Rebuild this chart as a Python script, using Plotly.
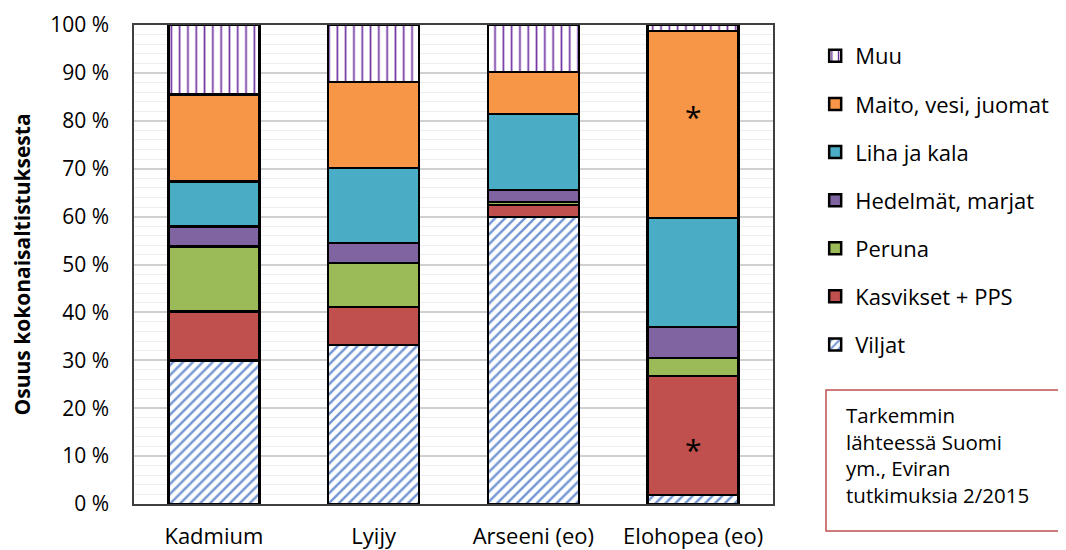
import plotly.graph_objects as go

categories = ["Kadmium", "Lyijy", "Arseeni (eo)", "Elohopea (eo)"]
series_names = ["Viljat", "Kasvikset + PPS", "Peruna", "Hedelmät, marjat", "Liha ja kala", "Maito, vesi, juomat", "Muu"]
viljat = [30.0, 33.2, 59.9, 1.9]
kasvikset = [10.2, 7.9, 2.5, 24.8]
peruna = [13.6, 9.2, 0.7, 3.8]
hedelmat = [4.1, 4.2, 2.5, 6.5]
liha = [9.4, 15.6, 15.8, 22.7]
maito = [18.2, 18.0, 8.8, 39.0]
muu = [14.5, 11.9, 9.8, 1.3]
y_ticks = list(range(0, 101, 10))
y_ticklabels = [f"{t} %" for t in y_ticks]

series_values = [viljat, kasvikset, peruna, hedelmat, liha, maito, muu]
colors = ["#4472C4", "#C0504D", "#9BBB59", "#8064A2", "#4BACC6", "#F79646", "#7030A0"]
patterns = ["/", "", "", "", "", "", "|"]

FONT = "'Open Sans', 'Noto Sans', sans-serif"

fig = go.Figure()
for i, (name, vals, col, pat) in enumerate(zip(series_names, series_values, colors, patterns)):
    if pat == "/":
        marker = dict(color="white", line=dict(color="black", width=2.5),
                      pattern=dict(shape=pat, fgcolor=col, bgcolor="white", fgopacity=0.75,
                                   size=7, solidity=0.35, fillmode="overlay"))
    elif pat == "|":
        marker = dict(color="white", line=dict(color="black", width=2.5),
                      pattern=dict(shape=pat, fgcolor=col, bgcolor="white", fgopacity=1,
                                   size=8.3, solidity=0.2, fillmode="overlay"))
    else:
        marker = dict(color=col, line=dict(color="black", width=2.5))
    fig.add_trace(go.Bar(x=categories, y=vals, name=name, marker=marker,
                         legendgroup=name, legendrank=100 - i, hoverinfo="skip"))

# asterisks on Elohopea Maito and Kasvikset segments
eh = 3
y_kas = viljat[eh] + kasvikset[eh] / 2
y_mai = viljat[eh] + kasvikset[eh] + peruna[eh] + hedelmat[eh] + liha[eh] + maito[eh] / 2
for yv, ys in ((y_kas, -14), (y_mai, 8)):
    fig.add_annotation(x=categories[eh], y=yv, text="*", showarrow=False,
                       font=dict(size=30, color="black", family=FONT), yshift=ys)

# page body has an 8px margin: shift plot area accordingly
fig.update_layout(
    barmode="stack",
    bargap=0.43,
    width=1066, height=550,
    margin=dict(l=126, r=301, t=17, b=54, autoexpand=False),
    plot_bgcolor="white", paper_bgcolor="white",
    font=dict(family=FONT, size=21, color="black"),
    legend=dict(traceorder="grouped", x=1.066, xanchor="left", y=0.979, yanchor="top",
                font=dict(size=22, family=FONT), tracegroupgap=16.5, itemwidth=30,
                bgcolor="rgba(0,0,0,0)"),
    showlegend=True,
)
fig.update_yaxes(range=[0, 100], tickvals=y_ticks, ticktext=y_ticklabels, automargin=False,
                 showgrid=True, gridcolor="#D0D0D0", gridwidth=1.5,
                 minor=dict(dtick=2, showgrid=True, gridcolor="#EEEEEE", gridwidth=1),
                 showline=True, linecolor="#404040", linewidth=1.5, mirror=True,
                 ticks="", ticklabelstandoff=19, tickfont=dict(size=21),
                 zeroline=False)
fig.update_xaxes(showline=True, linecolor="#404040", linewidth=1.5, mirror=True, automargin=False,
                 ticks="", tickfont=dict(size=22), ticklabelstandoff=12)

# y-axis title
fig.add_annotation(xref="paper", yref="paper", x=(21 - 134) / 639, y=0.5,
                   text="<b>Osuus kokonaisaltistuksesta</b>", textangle=-90, showarrow=False,
                   xanchor="center", yanchor="middle", font=dict(size=21, family=FONT))

# text box
fig.add_shape(type="rect", xref="paper", yref="paper",
              x0=(826 - 134) / 639, x1=(1080 - 134) / 639,
              y0=(504 - 531) / 479, y1=(504 - 390) / 479,
              line=dict(color="#C0504D", width=1.5), fillcolor="white")
fig.add_annotation(xref="paper", yref="paper", x=(844 - 134) / 639, y=(504 - 399) / 479,
                   xanchor="left", yanchor="top", align="left", showarrow=False,
                   text="Tarkemmin<br>lähteessä Suomi<br>ym., Eviran<br>tutkimuksia 2/2015",
                   font=dict(size=20.5, family=FONT, color="black"))

fig.write_html("out.html")
